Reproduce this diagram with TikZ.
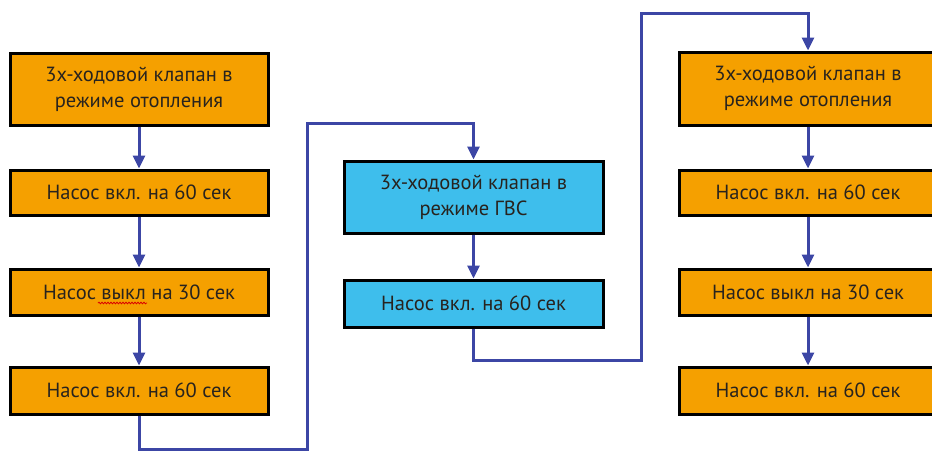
\documentclass[tikz,border=0pt]{standalone}
\usepackage{fontspec}
\setmainfont{PT Sans}
\usetikzlibrary{arrows.meta,decorations.pathmorphing}
\definecolor{boxorange}{RGB}{245,160,0}
\definecolor{boxblue}{RGB}{62,190,236}
\definecolor{linkblue}{RGB}{60,70,165}
\definecolor{txtgray}{RGB}{40,35,30}
\tikzset{
  box/.style={draw=black, line width=3pt, minimum width=258pt, inner sep=0pt,
    align=center, text=txtgray, font=\fontsize{20.5}{26}\selectfont},
  obox/.style={box, fill=boxorange},
  bbox/.style={box, fill=boxblue},
  conn/.style={draw=linkblue, line width=3pt, -{Triangle[width=12pt,length=13pt]}},
}
\begin{document}
\begin{tikzpicture}[x=1pt,y=1pt]
\useasboundingbox (0,0) rectangle (932,-451);
% left column
\node[obox, minimum height=72pt] (L1) at (139,-89) {3х-ходовой клапан в\\режиме отопления};
\node[obox, minimum height=45pt] (L2) at (139,-192.5) {Насос вкл. на 60 сек};
\node[obox, minimum height=46pt] (L3) at (139,-292) {Насос выкл на 30 сек};
\node[obox, minimum height=47pt] (L4) at (139,-390.5) {Насос вкл. на 60 сек};
% middle column
\node[bbox, minimum width=259pt, minimum height=72pt] (B1) at (473.5,-197) {3х-ходовой клапан в\\режиме ГВС};
\node[bbox, minimum width=259pt, minimum height=47pt] (B2) at (473.5,-303.5) {Насос вкл. на 60 сек};
% right column
\node[obox, minimum height=73pt] (R1) at (808,-88.5) {3х-ходовой клапан в\\режиме отопления};
\node[obox, minimum height=45pt] (R2) at (808,-192.5) {Насос вкл. на 60 сек};
\node[obox, minimum height=46pt] (R3) at (808,-292) {Насос выкл на 30 сек};
\node[obox, minimum height=47pt] (R4) at (808,-390.5) {Насос вкл. на 60 сек};
% spell-check squiggle
\draw[red!85!black, line width=0.8pt, decorate, decoration={snake, amplitude=0.8pt, segment length=3pt}] (98,-303) -- (147,-303);
% connectors
\coordinate (a1) at (307,-449);
\coordinate (a2) at (473.5,-123);
\coordinate (b1) at (641,-360);
\coordinate (b2) at (808,-13);
\draw[conn] (L1) -- (L2);
\draw[conn] (L2) -- (L3);
\draw[conn] (L3) -- (L4);
\draw[conn] (L4.south) |- (a1) |- (a2) -- (B1.north);
\draw[conn] (B1) -- (B2);
\draw[conn] (B2.south) |- (b1) |- (b2) -- (R1.north);
\draw[conn] (R1) -- (R2);
\draw[conn] (R2) -- (R3);
\draw[conn] (R3) -- (R4);
\end{tikzpicture}
\end{document}
